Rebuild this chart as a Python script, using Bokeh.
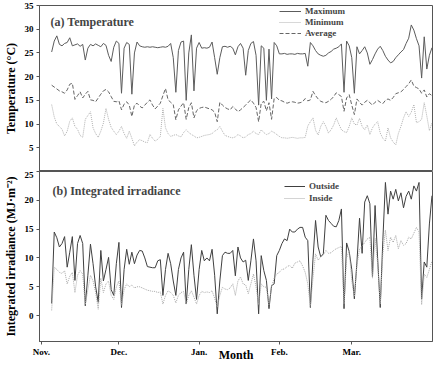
import numpy as np
from bokeh.plotting import figure
from bokeh.layouts import column
from bokeh.models import FixedTicker, Legend, LegendItem, Label, Range1d
from bokeh.embed import file_html
from bokeh.resources import INLINE

# ---- data (daily values, day index counted from Nov 1 = 0) ----
month_ticks = [0, 30, 61, 92, 120]
month_labels = ["Nov.", "Dec.", "Jan.", "Feb.", "Mar."]
first_day = 4

t_max = [25.2, 27.5, 28.6, 26.8, 26.5, 27.0, 27.2, 28.2, 26.5, 26.7,
         26.9, 26.4, 26.8, 23.5, 26.0, 26.8, 26.5, 26.9, 26.6, 26.3,
         27.0, 26.6, 24.5, 23.2, 26.2, 27.5, 27.0, 16.5, 26.0, 27.2,
         26.8, 16.3, 25.0, 27.3, 26.5, 26.3, 26.2, 26.3, 26.2, 26.3,
         26.2, 26.1, 26.2, 26.3, 26.2, 26.4, 27.0, 24.0, 16.7, 25.5,
         27.3, 27.5, 15.0, 25.0, 28.8, 17.0, 26.0, 27.2, 26.0, 26.1,
         26.0, 26.2, 27.3, 24.0, 20.5, 24.0, 26.3, 26.4, 26.2, 26.4,
         26.0, 24.6, 26.3, 27.0, 26.0, 20.3, 25.5, 27.0, 27.4, 24.5,
         14.0, 26.5, 26.0, 15.0, 25.8, 15.3, 27.2, 26.5, 24.8, 24.8,
         24.9, 24.7, 24.8, 24.8, 24.7, 24.9, 24.8, 24.8, 24.9, 22.2,
         27.2, 26.5, 25.5, 24.8, 24.5, 24.3, 24.5, 25.0, 25.3, 25.8,
         26.0, 26.3, 26.9, 16.7, 27.5, 26.5, 24.0, 16.5, 26.3, 24.8,
         25.5, 26.3, 25.0, 22.6, 23.6, 24.8, 25.8, 26.4, 25.5, 24.3,
         23.5, 22.9, 23.2, 24.0, 24.6, 25.2, 25.7, 27.0, 28.1, 30.9,
         29.8, 28.0, 26.5, 19.7, 28.4, 21.6, 24.5, 26.1]

t_min = [14.1, 11.5, 10.0, 9.5, 8.9, 7.5, 8.5, 10.6, 11.3, 9.5,
         8.9, 7.6, 7.2, 11.0, 11.8, 12.6, 9.2, 8.0, 7.2, 8.5,
         10.2, 13.3, 11.0, 9.3, 8.5, 7.8, 8.5, 9.5, 8.0, 7.0,
         8.5, 7.0, 5.4, 6.2, 6.7, 6.5, 6.2, 6.1, 7.8, 7.0,
         6.4, 6.8, 7.4, 13.3, 9.2, 8.0, 7.4, 7.6, 7.8, 7.5,
         7.3, 8.2, 8.8, 8.2, 7.8, 7.5, 7.1, 7.2, 7.4, 7.6,
         7.7, 7.8, 8.0, 8.5, 8.8, 9.5, 8.5, 7.6, 7.4, 7.2,
         7.1, 7.3, 7.8, 7.5, 7.1, 7.3, 7.8, 8.0, 8.5, 8.0,
         7.8, 8.8, 8.2, 7.8, 8.0, 8.5, 8.2, 7.8, 7.4, 7.1,
         7.1, 7.0, 7.1, 7.2, 7.1, 7.0, 7.1, 7.1, 7.2, 9.6,
         10.5, 11.3, 8.7, 7.7, 9.5, 10.5, 9.5, 8.1, 8.8, 9.8,
         11.3, 10.0, 8.8, 8.4, 8.2, 9.5, 11.3, 10.0, 9.8, 11.2,
         9.5, 8.8, 9.8, 7.8, 9.2, 10.0, 10.5, 8.1, 7.0, 6.4,
         9.2, 7.1, 6.2, 5.6, 8.0, 9.5, 11.3, 12.6, 11.6, 12.5,
         14.1, 10.3, 10.5, 11.0, 14.5, 11.7, 8.6, 10.3]

t_avg = [18.2, 17.8, 17.4, 17.0, 16.8, 16.5, 17.2, 18.4, 18.6, 15.2,
         16.0, 16.8, 15.5, 16.3, 16.9, 15.1, 15.0, 14.7, 15.5, 16.3,
         17.0, 17.3, 16.8, 15.8, 14.8, 14.7, 14.9, 13.0, 14.2, 14.7,
         14.0, 11.6, 14.0, 14.4, 13.8, 13.4, 14.0, 14.6, 15.1, 14.0,
         13.2, 13.8, 14.4, 16.0, 17.5, 15.1, 14.6, 14.1, 10.9, 13.0,
         13.8, 14.5, 11.0, 13.5, 14.5, 11.3, 12.8, 13.3, 13.5, 13.6,
         13.4, 13.2, 13.0, 12.5, 10.5, 14.6, 14.0, 13.5, 13.2, 13.0,
         13.7, 13.2, 12.6, 13.0, 13.5, 14.0, 14.6, 15.1, 14.4, 13.5,
         10.5, 14.4, 14.8, 12.8, 14.5, 11.0, 15.4, 15.6, 15.0, 14.9,
         14.6, 14.4, 14.6, 14.7, 14.6, 14.4, 14.5, 14.7, 15.4, 14.9,
         15.1, 16.9, 16.0, 15.3, 14.8, 14.6, 14.5, 14.8, 15.2, 15.8,
         16.6, 16.2, 15.8, 12.7, 15.5, 16.2, 14.0, 12.0, 15.3, 14.6,
         14.0, 14.6, 15.0, 14.5, 14.0, 14.6, 15.0, 14.6, 14.3, 15.0,
         15.3, 15.0, 15.6, 16.4, 16.6, 16.8, 17.3, 17.9, 18.5, 19.3,
         18.0, 17.7, 17.4, 16.5, 17.2, 15.7, 16.4, 16.0]

irr_outside = [2.1, 14.5, 13.5, 11.9, 12.5, 13.7, 8.4, 11.0, 13.7, 6.1,
               12.5, 13.9, 12.5, 1.7, 7.0, 12.4, 9.0, 5.0, 2.3, 11.3,
               6.0, 8.0, 10.1, 4.5, 3.5, 9.0, 12.7, 1.4, 8.0, 11.5,
               8.9, 11.0, 9.0, 10.5, 11.3, 11.2, 10.0, 8.5, 8.4, 8.3,
               8.3, 9.5, 9.7, 3.5, 8.0, 10.8, 9.0, 6.0, 3.5, 8.0,
               10.0, 11.0, 2.0, 8.0, 12.3, 7.0, 2.8, 8.0, 11.3, 9.5,
               10.0, 9.5, 11.5, 7.0, 0.3, 6.0, 10.4, 11.0, 10.8, 10.8,
               11.3, 6.9, 11.9, 10.0, 9.3, 9.6, 6.1, 9.5, 13.3, 9.5,
               0.3, 10.4, 7.8, 6.1, 1.2, 5.2, 5.5, 10.4, 11.3, 12.5,
               13.3, 13.0, 15.0, 14.5, 14.5, 15.0, 15.3, 15.3, 13.6, 13.0,
               1.4, 9.8, 16.5, 11.9, 10.2, 10.7, 17.4, 16.5, 16.0, 15.5,
               15.4, 16.5, 18.5, 1.2, 12.6, 11.1, 8.0, 2.9, 9.3, 16.9,
               10.8, 19.7, 20.8, 19.4, 6.7, 19.1, 9.9, 1.4, 13.0, 23.1,
               17.6, 21.6, 20.2, 21.9, 19.9, 21.3, 18.7, 20.7, 21.6, 20.2,
               22.5, 21.6, 23.1, 2.9, 9.3, 8.4, 15.9, 20.8]

irr_inside = [0.9, 8.4, 8.0, 7.5, 7.3, 7.8, 5.5, 6.8, 7.5, 4.0,
              7.0, 7.8, 7.2, 1.9, 4.5, 7.0, 6.0, 4.0, 1.1, 6.5,
              4.0, 5.5, 6.0, 3.5, 2.8, 5.0, 6.0, 1.8, 4.5, 5.5,
              5.0, 5.3, 4.8, 5.0, 5.0, 4.8, 4.6, 4.4, 4.3, 4.2,
              4.2, 4.0, 4.1, 2.0, 3.5, 4.3, 4.0, 3.5, 2.2, 3.5,
              4.0, 4.2, 2.0, 3.5, 4.3, 3.2, 2.0, 3.5, 4.2, 4.0,
              4.1, 4.0, 4.3, 3.0, 1.5, 3.5, 4.9, 4.6, 4.5, 4.8,
              5.5, 3.5, 6.0, 6.7, 5.5, 5.3, 3.8, 5.5, 7.2, 5.0,
              1.9, 5.5, 5.0, 4.9, 1.8, 5.0, 6.5, 7.2, 7.5, 8.0,
              8.1, 8.5, 8.7, 8.2, 9.1, 9.3, 9.5, 8.6, 7.5, 5.5,
              1.6, 6.5, 10.7, 9.6, 10.2, 10.5, 11.3, 10.8, 10.9, 11.3,
              11.6, 11.8, 12.0, 2.0, 10.0, 11.3, 6.0, 3.3, 8.7, 11.6,
              12.0, 12.7, 13.3, 13.6, 6.5, 13.4, 9.0, 2.0, 10.7, 14.8,
              11.3, 13.6, 12.7, 13.9, 11.6, 13.0, 12.2, 12.5, 13.6, 13.3,
              14.3, 15.3, 14.5, 1.9, 7.2, 6.6, 8.0, 9.5]

temp_ticks = [5, 10, 15, 20, 25, 30, 35]
irr_ticks = [0, 5, 10, 15, 20, 25]


def days_for(series):
    return first_day + np.arange(len(series))


FONT = "Liberation Serif"
FRAME = "#555555"

x_range = Range1d(-0.7, 151.2)


def style_axis(ax):
    ax.major_label_text_font = FONT
    ax.major_label_text_font_style = "bold"
    ax.major_label_text_font_size = "9px"
    ax.major_label_text_color = "black"
    ax.axis_label_text_font = FONT
    ax.axis_label_text_font_style = "bold"
    ax.axis_label_text_font_size = "12px"
    ax.axis_label_text_color = "black"
    ax.axis_line_color = FRAME
    ax.major_tick_line_color = FRAME
    ax.major_tick_out = 3
    ax.major_tick_in = 0
    ax.minor_tick_line_color = None


# ---------------- top panel: temperature ----------------
p1 = figure(width=434, height=171, x_range=x_range, y_range=Range1d(0, 35),
            output_backend="svg", toolbar_location=None, x_axis_location=None,
            min_border_left=37, min_border_right=2, min_border_top=5,
            min_border_bottom=0)
p1.grid.visible = False
p1.outline_line_color = FRAME
style_axis(p1.yaxis[0])
p1.yaxis.ticker = FixedTicker(ticks=temp_ticks)
p1.yaxis.axis_label = "Temperature (°C)"
p1.yaxis.axis_label_standoff = 4
p1.yaxis.major_label_standoff = 3

r_max = p1.line(days_for(t_max), t_max, line_color="#5c5c5c", line_width=1)
r_min = p1.line(days_for(t_min), t_min, line_color="#b0b0b0", line_width=1,
                line_dash="1 1")
r_avg = p1.line(days_for(t_avg), t_avg, line_color="#666666", line_width=1,
                line_dash="4 2")

leg1 = Legend(items=[LegendItem(label="Maximum", renderers=[r_max]),
                     LegendItem(label="Minimum", renderers=[r_min]),
                     LegendItem(label="Average", renderers=[r_avg])],
              location=(240, 133), padding=0, margin=0, spacing=1,
              glyph_width=22, glyph_height=10, label_height=10,
              label_standoff=4, border_line_color=None,
              background_fill_alpha=0, label_text_font=FONT,
              label_text_font_style="bold", label_text_font_size="9px")
p1.add_layout(leg1)

p1.add_layout(Label(x=11, y=157, x_units="screen", y_units="screen",
                    text="(a) Temperature", text_font=FONT,
                    text_font_style="bold", text_font_size="12px",
                    text_baseline="top"))

# ---------------- bottom panel: irradiance ----------------
p2 = figure(width=434, height=194, x_range=x_range, y_range=Range1d(-4.5, 25),
            output_backend="svg", toolbar_location=None,
            min_border_left=37, min_border_right=2, min_border_top=0,
            min_border_bottom=24)
p2.grid.visible = False
p2.outline_line_color = FRAME
style_axis(p2.yaxis[0])
style_axis(p2.xaxis[0])
p2.yaxis.ticker = FixedTicker(ticks=irr_ticks)
p2.yaxis.axis_label = "Integrated irradiance (MJ·m⁻²)"
p2.yaxis.axis_label_standoff = 4
p2.yaxis.major_label_standoff = 3
p2.xaxis.ticker = FixedTicker(ticks=month_ticks)
p2.xaxis.major_label_overrides = dict(zip(month_ticks, month_labels))
p2.xaxis.major_label_standoff = 2
p2.xaxis.axis_label = "Month"
p2.xaxis.axis_label_text_font_size = "12px"
p2.xaxis.axis_label_standoff = -12

r_out = p2.line(days_for(irr_outside), irr_outside, line_color="#404040",
                line_width=1)
r_in = p2.line(days_for(irr_inside), irr_inside, line_color="#a8a8a8",
               line_width=1, line_dash="1 1")

leg2 = Legend(items=[LegendItem(label="Outside", renderers=[r_out]),
                     LegendItem(label="Inside", renderers=[r_in])],
              location=(245, 138), padding=0, margin=0, spacing=2,
              glyph_width=21, glyph_height=10, label_height=10,
              label_standoff=4, border_line_color=None,
              background_fill_alpha=0, label_text_font=FONT,
              label_text_font_style="bold", label_text_font_size="9px")
p2.add_layout(leg2)

p2.add_layout(Label(x=13, y=158, x_units="screen", y_units="screen",
                    text="(b) Integrated irradiance", text_font=FONT,
                    text_font_style="bold", text_font_size="12px",
                    text_baseline="top"))

layout = column(p1, p2, spacing=0)
open("out.html", "w").write(file_html(layout, INLINE))
